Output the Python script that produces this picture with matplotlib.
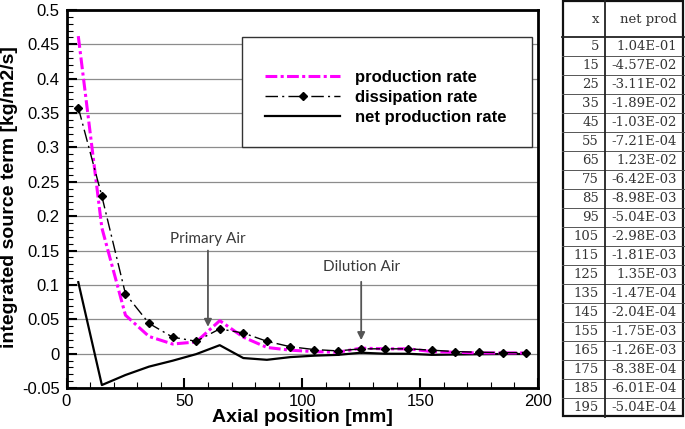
import matplotlib
matplotlib.use('Agg')
import matplotlib.pyplot as plt
from matplotlib.patches import Rectangle
from matplotlib.ticker import MultipleLocator, FixedLocator, FixedFormatter

# ---------------- data ----------------
x_pos = [5, 15, 25, 35, 45, 55, 65, 75, 85, 95, 105, 115, 125, 135, 145, 155, 165, 175, 185, 195]
production = [0.462, 0.183, 0.056, 0.025, 0.014, 0.017, 0.048, 0.024, 0.009, 0.005,
              0.003, 0.002, 0.008, 0.007, 0.007, 0.003, 0.002, 0.001, 0.001, 0.001]
dissipation = [0.358, 0.229, 0.087, 0.044, 0.024, 0.018, 0.036, 0.030, 0.018, 0.010,
               0.006, 0.004, 0.007, 0.007, 0.007, 0.005, 0.003, 0.002, 0.0015, 0.0015]
net_production = [1.04e-01, -4.57e-02, -3.11e-02, -1.89e-02, -1.03e-02, -7.21e-04, 1.23e-02,
                  -6.42e-03, -8.98e-03, -5.04e-03, -2.98e-03, -1.81e-03, 1.35e-03, -1.47e-04,
                  -2.04e-04, -1.75e-03, -1.26e-03, -8.38e-04, -6.01e-04, -5.04e-04]
series_labels = ['production rate', 'dissipation rate', 'net production rate']
table_header = ['x', 'net prod']
y_ticks = [-0.05, 0, 0.05, 0.1, 0.15, 0.2, 0.25, 0.3, 0.35, 0.4, 0.45, 0.5]
y_tick_labels = ['-0.05', '0', '0.05', '0.1', '0.15', '0.2', '0.25', '0.3', '0.35', '0.4', '0.45', '0.5']
x_ticks = [0, 50, 100, 150, 200]
x_tick_labels = ['0', '50', '100', '150', '200']
annotations = [('Primary Air', 60, 0.167, 0.150, 0.039),
               ('Dilution Air', 125, 0.126, 0.1045, 0.0197)]

# ---------------- style ----------------
plt.rcParams['font.family'] = ['Liberation Sans', 'DejaVu Sans']
plt.rcParams['lines.scale_dashes'] = False

W, H = 685, 429
fig = plt.figure(figsize=(W / 100, H / 100), dpi=100)
ax = fig.add_axes([66.5 / W, 41 / H, 471.5 / W, 378 / H])

ax.plot(x_pos, production, color='#ff00ff', lw=2.2, dashes=[8.5, 2.4, 2.2, 2.4],
        zorder=4, label=series_labels[0])
ax.plot(x_pos, dissipation, color='black', lw=1.0, dashes=[9, 3, 1.5, 3],
        marker='D', ms=4.5, zorder=5, label=series_labels[1])
ax.plot(x_pos, net_production, color='black', lw=1.6, zorder=3, label=series_labels[2])

ax.set_xlim(0, 200)
ax.set_ylim(-0.05, 0.5)
ax.xaxis.set_major_locator(FixedLocator(x_ticks))
ax.xaxis.set_major_formatter(FixedFormatter(x_tick_labels))
ax.xaxis.set_minor_locator(MultipleLocator(10))
ax.yaxis.set_major_locator(FixedLocator(y_ticks))
ax.yaxis.set_major_formatter(FixedFormatter(y_tick_labels))
ax.yaxis.set_minor_locator(MultipleLocator(0.01))

ax.grid(axis='y', which='major', color='#8c8c8c', lw=0.9)
ax.set_axisbelow(True)
ax.tick_params(which='major', direction='in', length=7, width=1.5, labelsize=12,
               top=False, right=False, colors='black')
ax.tick_params(which='minor', direction='in', length=4, width=0.8, top=False, right=False)
ax.tick_params(axis='x', which='major', pad=4)
ax.tick_params(axis='y', which='major', pad=5)
for s in ax.spines.values():
    s.set_linewidth(2)
    s.set_color('black')

ax.set_xlabel('Axial position [mm]', fontsize=14, fontweight='bold')
ax.xaxis.set_label_coords(0.5, -0.056)
ax.set_ylabel('integrated source term [kg/m2/s]', fontsize=14, fontweight='bold')
ax.yaxis.set_label_coords(-0.103, 0.505)

# legend box
rect = Rectangle((0.3716, 0.6384), 0.615, 0.291, transform=ax.transAxes,
                 facecolor='white', edgecolor='#333333', lw=1.0, zorder=6)
ax.add_patch(rect)
leg = ax.legend(loc='upper left', bbox_to_anchor=(0.421, 0.842), frameon=False,
                borderpad=0, borderaxespad=0, handlelength=4.5, handletextpad=0.9,
                labelspacing=0.3, prop=dict(family='Liberation Sans', weight='bold', size=12))
leg.set_zorder(7)

# annotations
for txt, xa, ytxt, ystart, ytip in annotations:
    ax.text(xa, ytxt, txt, ha='center', va='center', fontsize=11, family=['Lato', 'DejaVu Sans'],
            color='#3a3a3a', zorder=8)
    ax.annotate('', xy=(xa, ytip), xytext=(xa, ystart),
                arrowprops=dict(arrowstyle='-|>', color='#555555', lw=1.3,
                                mutation_scale=11, shrinkA=0, shrinkB=0), zorder=8)

# ---------------- table ----------------
tx0, tw, th = 562, 122, 417
tax = fig.add_axes([tx0 / W, (H - th) / H, tw / W, th / H])
tax.set_xlim(0, tw)
tax.set_ylim(th, 0)
tax.axis('off')
header_h, row_h, col_div = 37, 19, 43
tfont = dict(family=['DejaVu Serif'], size=9.5, color='#333333')
tax.text(37, header_h / 2 + 1, table_header[0], ha='right', va='center', **tfont)
tax.text(115, header_h / 2 + 1, table_header[1], ha='right', va='center', **tfont)
for i, (xv, nv) in enumerate(zip(x_pos, net_production)):
    yc = header_h + row_h * (i + 0.5)
    tax.text(37, yc, f'{xv}', ha='right', va='center', **tfont)
    tax.text(115, yc, f'{nv:.2E}', ha='right', va='center', **tfont)
    if i > 0:
        tax.plot([0, tw], [header_h + row_h * i] * 2, color='#555555', lw=0.7, clip_on=False)
tax.plot([0, tw], [header_h, header_h], color='#222222', lw=1.3, clip_on=False)
tax.plot([col_div, col_div], [0, th], color='#222222', lw=1.3, clip_on=False)
tax.add_patch(Rectangle((0.8, 0.8), tw - 1.6, th - 1.6, fill=False, edgecolor='#111111',
                        lw=1.6, clip_on=False))

fig.savefig('out.png', dpi=100)
